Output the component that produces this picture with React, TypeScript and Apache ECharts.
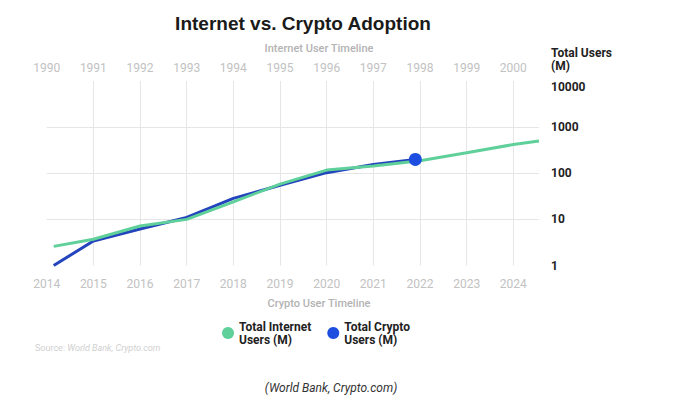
import React, { useEffect, useRef } from "react";
import * as echarts from "echarts";

// Internet users (M), top timeline 1990-2000
const internetYears = [1990.15, 1991, 1992, 1993, 1994, 1995, 1996, 1997, 1998, 1999, 2000, 2000.55];
const internetUsers = [2.6, 3.7, 7.2, 10, 24, 58, 117, 143, 187, 277, 419, 502];

// Crypto users (M), bottom timeline 2014-2024
const cryptoYears = [2014.15, 2015, 2016, 2017, 2018, 2019, 2020, 2021, 2021.9];
const cryptoUsers = [1, 3.4, 6.2, 11, 28.5, 55, 103, 155, 199];

const seriesNames = ["Total Internet\nUsers (M)", "Total Crypto\nUsers (M)"];
const yTicks = [1, 10, 100, 1000, 10000];

const GREEN = "#5fd09a";
const BLUE = "#2344bd";
const DOT = "#1e4ee0";
const FONT = "Roboto, 'Noto Sans', sans-serif";

export default function App() {
  const ref = useRef<HTMLDivElement>(null);
  useEffect(() => {
    if (!ref.current) return;
    const chart = echarts.init(ref.current, undefined, { renderer: "svg" });
    const gridLine = { color: "#e6e6e6", width: 1 };
    const option: any = {
      animation: false,
      backgroundColor: "#ffffff",
      textStyle: { fontFamily: FONT },
      grid: { left: 46.7, right: 141, top: 81, bottom: 141.5 },
      legend: {
        data: seriesNames,
        left: 217,
        top: 315,
        icon: "circle",
        itemWidth: 12,
        itemHeight: 12,
        itemGap: 16,
        itemStyle: { borderWidth: 0 },
        textStyle: { fontFamily: FONT, fontSize: 12, fontWeight: "bold", color: "#222", lineHeight: 13 },
      },
      xAxis: [
        {
          type: "value",
          position: "bottom",
          min: 2014,
          max: 2024.55,
          interval: 1,
          axisLine: { show: false },
          axisTick: { show: false },
          axisLabel: { color: "#c2c2c2", fontSize: 12, margin: 12, showMaxLabel: false, formatter: (v: number) => String(Math.round(v)) },
          splitLine: { show: true, lineStyle: gridLine, showMinLine: false, showMaxLine: false },
        },
        {
          type: "value",
          position: "top",
          min: 1990,
          max: 2000.55,
          interval: 1,
          axisLine: { show: false },
          axisTick: { show: false },
          axisLabel: { color: "#c2c2c2", fontSize: 12, margin: 7, showMaxLabel: false, formatter: (v: number) => String(Math.round(v)) },
          splitLine: { show: false },
        },
      ],
      yAxis: {
        type: "log",
        logBase: 10,
        min: yTicks[0],
        max: yTicks[yTicks.length - 1],
        position: "right",
        axisLine: { show: false },
        axisTick: { show: false },
        axisLabel: {
          align: "left",
          margin: 12,
          color: "#222",
          fontSize: 12,
          fontWeight: "bold",
          formatter: (v: number) => {
            const r = Math.round(v);
            return r >= 10000 ? "{t|" + r + "}" : String(r);
          },
          rich: { t: { fontSize: 12, fontWeight: "bold", color: "#222", padding: [12, 0, 0, 0] } },
        },
        splitLine: { show: true, lineStyle: gridLine, showMinLine: false, showMaxLine: false },
      },
      series: [
        {
          name: seriesNames[1],
          type: "line",
          xAxisIndex: 0,
          data: cryptoYears.map((y, i) => [y, cryptoUsers[i]]),
          symbol: "none",
          color: BLUE,
          lineStyle: { width: 3, color: BLUE },
          itemStyle: { color: DOT },
          z: 2,
        },
        {
          name: seriesNames[0],
          type: "line",
          xAxisIndex: 1,
          data: internetYears.map((y, i) => [y, internetUsers[i]]),
          symbol: "none",
          color: GREEN,
          lineStyle: { width: 3, color: GREEN },
          itemStyle: { color: GREEN },
          z: 3,
        },
        {
          type: "scatter",
          xAxisIndex: 0,
          data: [[cryptoYears[cryptoYears.length - 1], cryptoUsers[cryptoUsers.length - 1]]],
          symbol: "circle",
          symbolSize: 13,
          itemStyle: { color: DOT, opacity: 1 },
          z: 4,
        },
      ],
      graphic: [
        {
          type: "text",
          x: 303,
          y: 23,
          style: {
            text: "Internet vs. Crypto Adoption",
            fontFamily: "'Liberation Sans', Arial, sans-serif",
            fontSize: 19,
            fontWeight: "bold",
            fill: "#1a1a1a",
            align: "center",
            verticalAlign: "middle",
            textAlign: "center",
            textVerticalAlign: "middle",
          },
        },
        {
          type: "text",
          x: 319,
          y: 48,
          style: {
            text: "Internet User Timeline",
            fontFamily: FONT,
            fontSize: 11,
            fontWeight: 500,
            fill: "#b3b3b3",
            align: "center",
            verticalAlign: "middle",
            textAlign: "center",
            textVerticalAlign: "middle",
          },
        },
        {
          type: "text",
          x: 319,
          y: 303,
          style: {
            text: "Crypto User Timeline",
            fontFamily: FONT,
            fontSize: 11,
            fontWeight: 500,
            fill: "#b3b3b3",
            align: "center",
            verticalAlign: "middle",
            textAlign: "center",
            textVerticalAlign: "middle",
          },
        },
        {
          type: "text",
          x: 551,
          y: 46,
          style: {
            text: "Total Users\n(M)",
            fontFamily: FONT,
            fontSize: 12,
            fontWeight: "bold",
            lineHeight: 13,
            fill: "#222",
            align: "left",
            verticalAlign: "top",
            textAlign: "left",
            textVerticalAlign: "top",
          },
        },
        {
          type: "text",
          x: 35,
          y: 348,
          style: {
            text: "{a|Source: }{b|World Bank, Crypto.com}",
            fontFamily: FONT,
            fontSize: 9,
            fill: "#cfcfcf",
            align: "left",
            verticalAlign: "middle",
            textAlign: "left",
            textVerticalAlign: "middle",
            rich: {
              a: { fontFamily: FONT, fontSize: 9, fill: "#cfcfcf", color: "#cfcfcf" },
              b: { fontFamily: FONT, fontSize: 9, fontStyle: "italic", fill: "#cfcfcf", color: "#cfcfcf" },
            },
          },
        },
        {
          type: "text",
          x: 331,
          y: 388,
          style: {
            text: "(World Bank, Crypto.com)",
            fontFamily: FONT,
            fontSize: 12,
            fontStyle: "italic",
            fill: "#333",
            align: "center",
            verticalAlign: "middle",
            textAlign: "center",
            textVerticalAlign: "middle",
          },
        },
      ],
    };
    chart.setOption(option);
    return () => chart.dispose();
  }, []);
  return (
    <div
      ref={ref}
      style={{ position: "absolute", left: 0, top: 0, width: 680, height: 407, background: "#fff" }}
    />
  );
}
